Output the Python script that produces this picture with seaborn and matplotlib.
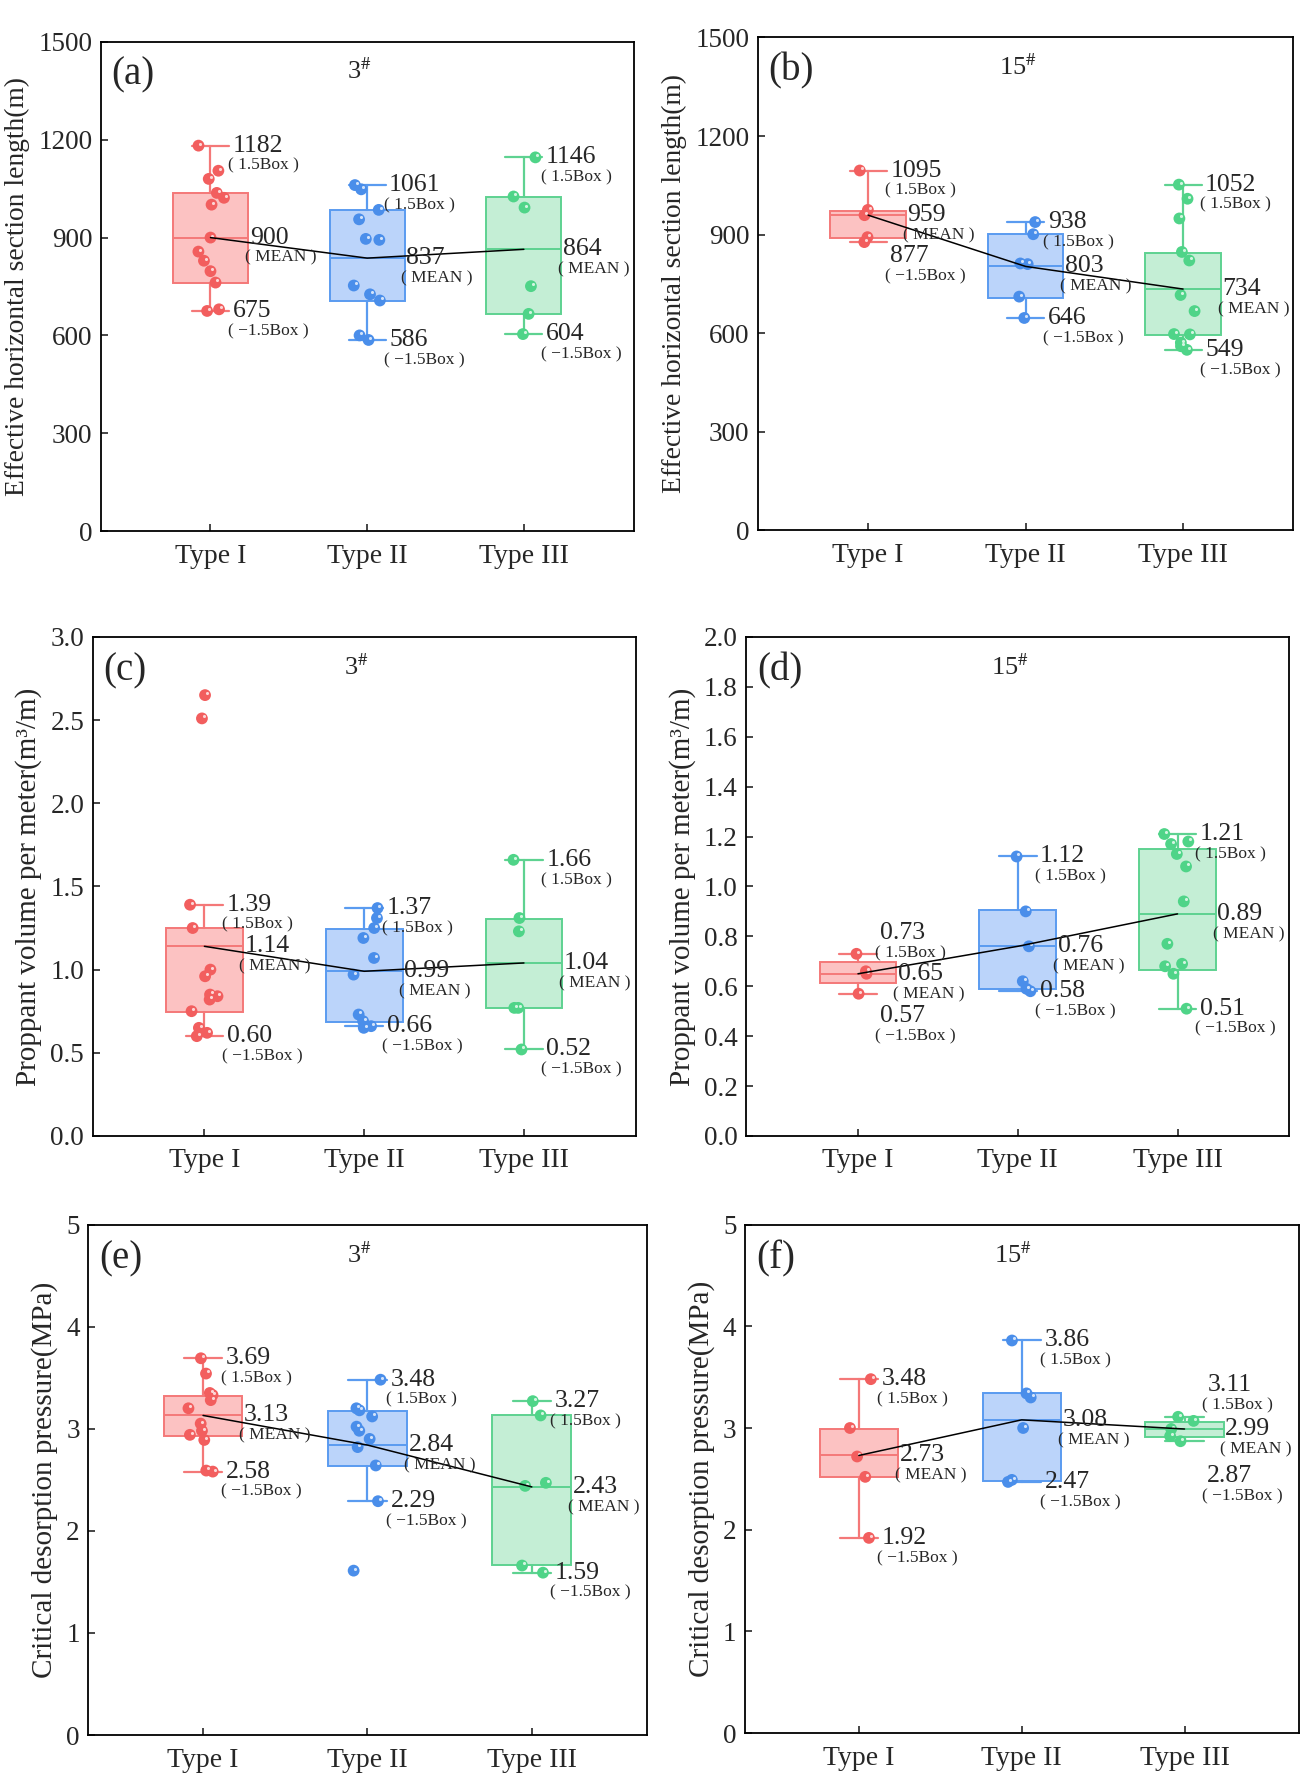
import numpy as np
import pandas as pd
import seaborn as sns
import matplotlib.pyplot as plt
from matplotlib.transforms import offset_copy


sns.set_style('ticks')
plt.rcParams['font.family'] = ['Liberation Serif', 'Noto Sans CJK SC']
plt.rcParams['mathtext.fontset'] = 'stix'
plt.rcParams['xtick.direction'] = 'in'
plt.rcParams['ytick.direction'] = 'in'
np.random.seed(7)


types = ['Type I', 'Type II', 'Type III']

# (a) Effective horizontal section length, 3#
a_pts = [[1182, 1105, 1080, 1037, 1022, 1001, 900, 857, 829, 797, 762, 680, 675],
         [1061, 1048, 985, 956, 896, 893, 753, 726, 707, 600, 586],
         [1146, 1026, 992, 751, 666, 604]]
a_q3 = [1036, 985, 1025]
a_q1 = [762, 707, 666]
a_mean = [900, 837, 864]
a_hi = [1182, 1061, 1146]
a_lo = [675, 586, 604]

# (b) Effective horizontal section length, 15#
b_pts = [[1095, 975, 959, 892, 877],
         [938, 901, 812, 810, 711, 646],
         [1052, 1009, 949, 847, 821, 716, 667, 597, 596, 571, 560, 549]]
b_q3 = [973, 901, 845]
b_q1 = [890, 707, 595]
b_mean = [959, 803, 734]
b_hi = [1095, 938, 1052]
b_lo = [877, 646, 549]

# (c) Proppant volume per meter, 3#
c_pts = [[2.65, 2.51, 1.39, 1.25, 1.00, 0.96, 0.85, 0.84, 0.82, 0.75, 0.65, 0.62, 0.60],
         [1.37, 1.31, 1.25, 1.19, 1.07, 0.97, 0.73, 0.69, 0.66, 0.65],
         [1.66, 1.31, 1.23, 0.77, 0.77, 0.52]]
c_q3 = [1.25, 1.245, 1.305]
c_q1 = [0.745, 0.687, 0.767]
c_mean = [1.14, 0.99, 1.04]
c_hi = [1.39, 1.37, 1.66]
c_lo = [0.60, 0.66, 0.52]

# (d) Proppant volume per meter, 15#
d_pts = [[0.73, 0.66, 0.65, 0.57],
         [1.12, 0.90, 0.76, 0.62, 0.59, 0.58],
         [1.21, 1.18, 1.17, 1.13, 1.08, 0.94, 0.77, 0.69, 0.68, 0.65, 0.51]]
d_q3 = [0.697, 0.904, 1.152]
d_q1 = [0.614, 0.59, 0.664]
d_mean = [0.65, 0.76, 0.89]
d_hi = [0.73, 1.12, 1.21]
d_lo = [0.57, 0.58, 0.51]

# (e) Critical desorption pressure, 3#
e_pts = [[3.69, 3.54, 3.35, 3.33, 3.28, 3.20, 3.05, 2.98, 2.94, 2.89, 2.59, 2.58],
         [3.48, 3.20, 3.18, 3.12, 3.02, 2.98, 2.90, 2.82, 2.64, 2.29, 1.61],
         [3.27, 3.13, 2.47, 2.44, 1.66, 1.59]]
e_q3 = [3.318, 3.172, 3.135]
e_q1 = [2.929, 2.637, 1.663]
e_mean = [3.13, 2.84, 2.43]
e_hi = [3.69, 3.48, 3.27]
e_lo = [2.58, 2.29, 1.59]

# (f) Critical desorption pressure, 15#
f_pts = [[3.48, 3.00, 2.72, 2.52, 1.92],
         [3.86, 3.34, 3.30, 3.00, 2.49, 2.47],
         [3.11, 3.07, 2.99, 2.92, 2.87]]
f_q3 = [2.99, 3.34, 3.058]
f_q1 = [2.52, 2.48, 2.91]
f_mean = [2.73, 3.08, 2.99]
f_hi = [3.48, 3.86, 3.11]
f_lo = [1.92, 2.47, 2.87]


box_fill = ['#fcc2c2', '#bbd4fa', '#c4eed5']
box_edge = ['#f47878', '#5a9bf0', '#5ed291']
pt_color = ['#f25e5e', '#4a8eea', '#4fd488']

len_label = 'Effective horizontal section length(m)'
prop_label = 'Proppant volume per meter(m³/m)'
pres_label = 'Critical desorption pressure(MPa)'

panels = [
    dict(tag='(a)', well=r'3$^{\#}$', data=(a_pts, a_q1, a_q3, a_mean, a_hi, a_lo),
         rect=[0.077, 0.7025, 0.407, 0.274], ylabel=len_label, ylsize=19.8,
         yticks=np.arange(0, 1501, 300), ylim=(0, 1500), tfmt='{:.0f}', fmt='{:.0f}', shifts={}),
    dict(tag='(b)', well=r'15$^{\#}$', data=(b_pts, b_q1, b_q3, b_mean, b_hi, b_lo),
         rect=[0.579, 0.703, 0.409, 0.276], ylabel=len_label, ylsize=19.8,
         yticks=np.arange(0, 1501, 300), ylim=(0, 1500), tfmt='{:.0f}', fmt='{:.0f}',
         shifts={(0, 'lo'): -10}),
    dict(tag='(c)', well=r'3$^{\#}$', data=(c_pts, c_q1, c_q3, c_mean, c_hi, c_lo),
         rect=[0.0707, 0.3636, 0.415, 0.2796], ylabel=prop_label, ylsize=21,
         yticks=np.arange(0, 3.01, 0.5), ylim=(0, 3), tfmt='{:.1f}', fmt='{:.2f}', shifts={}),
    dict(tag='(d)', well=r'15$^{\#}$', data=(d_pts, d_q1, d_q3, d_mean, d_hi, d_lo),
         rect=[0.570, 0.3636, 0.415, 0.2796], ylabel=prop_label, ylsize=21,
         yticks=np.arange(0, 2.01, 0.2), ylim=(0, 2), tfmt='{:.1f}', fmt='{:.2f}',
         shifts={(0, 'hi'): 15, (0, 'lo'): -16}),
    dict(tag='(e)', well=r'3$^{\#}$', data=(e_pts, e_q1, e_q3, e_mean, e_hi, e_lo),
         rect=[0.0672, 0.028, 0.427, 0.286], ylabel=pres_label, ylsize=21,
         yticks=np.arange(0, 6, 1), ylim=(0, 5), tfmt='{:.0f}', fmt='{:.2f}', shifts={}),
    dict(tag='(f)', well=r'15$^{\#}$', data=(f_pts, f_q1, f_q3, f_mean, f_hi, f_lo),
         rect=[0.569, 0.029, 0.423, 0.285], ylabel=pres_label, ylsize=21,
         yticks=np.arange(0, 6, 1), ylim=(0, 5), tfmt='{:.0f}', fmt='{:.2f}',
         shifts={(2, 'hi'): 23, (2, 'lo'): -25}),
]


fig = plt.figure(figsize=(13.09, 17.85), dpi=100)

for p in panels:
    ax = fig.add_axes(p['rect'])
    pts, q1, q3, mean, hi, lo = p['data']

    # boxes from the read-off statistics
    stats = [dict(med=mean[i], q1=q1[i], q3=q3[i], whislo=lo[i], whishi=hi[i], fliers=[])
             for i in range(3)]
    art = ax.bxp(stats, positions=[0, 1, 2], widths=0.48, capwidths=0.235, patch_artist=True,
                 showfliers=False, manage_ticks=False, zorder=2)
    for i in range(3):
        art['boxes'][i].set(facecolor=box_fill[i], edgecolor=box_edge[i], linewidth=1.4)
        art['medians'][i].set(color=box_edge[i], linewidth=1.4)
        for ln in art['whiskers'][2 * i:2 * i + 2] + art['caps'][2 * i:2 * i + 2]:
            ln.set(color=box_edge[i], linewidth=1.6)

    # raw points
    df = pd.DataFrame([(types[i], v) for i in range(3) for v in pts[i]], columns=['type', 'value'])
    sns.stripplot(data=df, x='type', y='value', hue='type', order=types, hue_order=types,
                  palette=pt_color, jitter=0.09, size=8.5, linewidth=0, legend=False,
                  ax=ax, zorder=3)
    hl = offset_copy(ax.transData, fig=fig, x=1.3, y=1.5, units='points')
    for coll in list(ax.collections):
        off = coll.get_offsets()
        ax.scatter(off[:, 0], off[:, 1], s=5, color='white', alpha=0.75, linewidths=0,
                   transform=hl, zorder=3.5)

    # line through the means
    ax.plot([0, 1, 2], mean, color='black', linewidth=1.1, zorder=4)

    # value labels
    for i in range(3):
        for val, note, dx, kind in [(hi[i], '( 1.5Box )', 0.14, 'hi'),
                                    (mean[i], '( MEAN )', 0.25, 'mean'),
                                    (lo[i], '( −1.5Box )', 0.14, 'lo')]:
            dy = p['shifts'].get((i, kind), 0)
            ax.annotate(p['fmt'].format(val), xy=(i + dx, val), xytext=(0, dy),
                        textcoords='offset points', ha='left', va='center', fontsize=18.5, zorder=5)
            ax.annotate(note, xy=(i + dx, val), xytext=(-3.5, dy - 14.5),
                        textcoords='offset points', ha='left', va='center', fontsize=12.5, zorder=5)

    ax.set_xlim(-0.7, 2.7)
    ax.set_ylim(*p['ylim'])
    ax.set_yticks(p['yticks'])
    ax.set_yticklabels([p['tfmt'].format(t) for t in p['yticks']])
    ax.set_xticks([0, 1, 2])
    ax.set_xticklabels(types)
    ax.set_xlabel('')
    ax.set_ylabel(p['ylabel'], fontsize=p['ylsize'], labelpad=6)
    ax.tick_params(axis='both', labelsize=19.5, length=5, width=1.2, pad=6)
    ax.tick_params(axis='x', labelsize=20, pad=9)
    for s in ax.spines.values():
        s.set_linewidth(1.3)
        s.set_color('black')

    ax.text(0.02, 0.932, p['tag'], transform=ax.transAxes, fontsize=28, ha='left', va='center')
    ax.text(0.485, 0.94, p['well'], transform=ax.transAxes, fontsize=19, ha='center', va='center')

plt.savefig('out.png', dpi=100)
